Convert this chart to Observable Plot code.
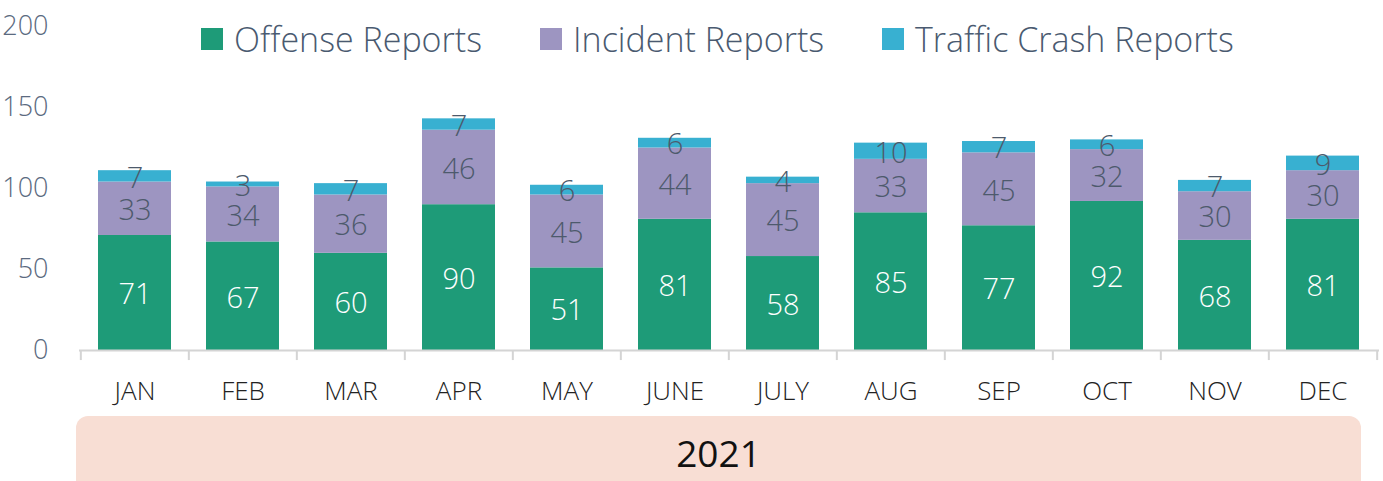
<!DOCTYPE html>
<html><head><meta charset="utf-8">
<script src="https://cdn.jsdelivr.net/npm/d3@7"></script>
<script src="https://cdn.jsdelivr.net/npm/@observablehq/plot@0.6"></script>
<style>
body{margin:0;background:#fff;font-family:"Open Sans",sans-serif;}
#wrap{position:relative;width:1383px;height:481px;overflow:hidden;}
#legend{position:absolute;top:16px;left:0;width:1383px;height:48px;}
.li{position:absolute;top:0;display:flex;align-items:center;font-size:34px;font-weight:300;color:#4a5a70;white-space:nowrap;}
.sw{width:22px;height:22px;margin-right:11px;display:inline-block;}
#band{position:absolute;left:76px;top:416px;width:1285px;height:78px;background:#f8ded4;border-radius:12px;}
#year{position:absolute;left:0;top:427px;width:1437px;text-align:center;font-size:37px;color:#111;font-weight:400;}
</style></head><body>
<div id="wrap"></div>
<script>
const months = ["JAN","FEB","MAR","APR","MAY","JUNE","JULY","AUG","SEP","OCT","NOV","DEC"];
const offense = [71,67,60,90,51,81,58,85,77,92,68,81];
const incident = [33,34,36,46,45,44,45,33,45,32,30,30];
const traffic = [7,3,7,7,6,6,4,10,7,6,7,9];
const seriesNames = ["Offense Reports","Incident Reports","Traffic Crash Reports"];
const seriesColors = ["#1e9b78","#9d95c1","#38b0d1"];
const yTicks = [0,50,100,150,200];
const yearLabel = "2021";

const seriesVals = [offense, incident, traffic];
const data = [];
months.forEach((m,i)=>seriesNames.forEach((s,k)=>data.push({month:m, series:s, value:seriesVals[k][i]})));

const width = 1383, ml = 79, mr = 4;
const step = (width - ml - mr) / months.length;

const plot = Plot.plot({
  width, height: 481,
  marginTop: 26, marginBottom: 131, marginLeft: ml, marginRight: mr,
  style: {fontFamily: "Open Sans, sans-serif", background: "transparent", overflow: "visible"},
  x: {domain: months, paddingInner: 0.32, paddingOuter: 0.16, label: null},
  y: {domain: [0,200], label: null},
  color: {domain: seriesNames, range: seriesColors},
  marks: [
    Plot.axisY({ticks: yTicks, tickSize: 0, tickPadding: 31, fontSize: 27, fill: "#5b6a80", fontWeight: 300, letterSpacing: -1}),
    Plot.axisX({tickSize: 0, tickPadding: 31, fontSize: 26, fill: "#222", fontWeight: 300, letterSpacing: -0.5}),
    Plot.barY(data, Plot.stackY({x: "month", y: "value", fill: "series", order: seriesNames})),
    Plot.ruleY([0], {stroke: "#d4d4d4", strokeWidth: 2}),
    Plot.ruleX(months, {x: d=>d, y1: 0, y2: -6.2, dx: -step/2, stroke: "#d4d4d4", strokeWidth: 2}),
    Plot.ruleX([months[months.length-1]], {x: d=>d, y1: 0, y2: -6.2, dx: step/2, stroke: "#d4d4d4", strokeWidth: 2}),
    Plot.text(data, Plot.stackY({x: "month", y: "value", z: "series", order: seriesNames, text: "value",
      fill: d => d.series === seriesNames[0] ? "#ffffff" : "#4d5a6c", fontSize: 29, fontWeight: 300, letterSpacing: -1, dy: 2}))
  ]
});

const wrap = document.getElementById("wrap");
const band = document.createElement("div"); band.id = "band"; wrap.appendChild(band);
const yr = document.createElement("div"); yr.id = "year"; yr.textContent = yearLabel; wrap.appendChild(yr);
plot.style.position = "absolute"; plot.style.left = "0"; plot.style.top = "0";
wrap.appendChild(plot);
const legend = document.createElement("div"); legend.id = "legend";
const lefts = [201, 540, 882];
seriesNames.forEach((s,k)=>{
  const it = document.createElement("div"); it.className = "li"; it.style.left = lefts[k] + "px";
  const sw = document.createElement("span"); sw.className = "sw"; sw.style.background = seriesColors[k];
  it.appendChild(sw); it.appendChild(document.createTextNode(s));
  legend.appendChild(it);
});
wrap.appendChild(legend);
</script>
</body></html>
